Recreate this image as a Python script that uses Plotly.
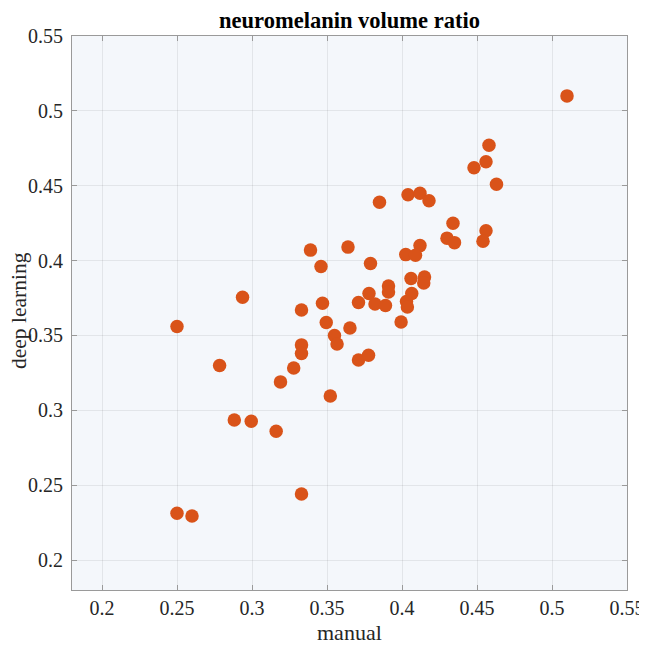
import plotly.graph_objects as go

manual = [0.510, 0.458, 0.456, 0.448, 0.463, 0.385, 0.404, 0.412, 0.418, 0.434,
          0.430, 0.435, 0.456, 0.454, 0.379, 0.412, 0.4025, 0.409, 0.406, 0.415,
          0.4145, 0.378, 0.391, 0.391, 0.4065, 0.339, 0.364, 0.346, 0.371, 0.382,
          0.389, 0.403, 0.4036, 0.3994, 0.333, 0.347, 0.3495, 0.3653, 0.355, 0.3567,
          0.333, 0.333, 0.371, 0.3777, 0.3278, 0.319, 0.3522, 0.250, 0.2937, 0.2784,
          0.2882, 0.2995, 0.3161, 0.250, 0.260, 0.333]
deep_learning = [0.510, 0.477, 0.466, 0.462, 0.451, 0.439, 0.444, 0.445, 0.440, 0.425,
                 0.415, 0.412, 0.420, 0.413, 0.398, 0.410, 0.404, 0.4035, 0.388, 0.389,
                 0.385, 0.378, 0.383, 0.379, 0.378, 0.407, 0.409, 0.396, 0.372, 0.371,
                 0.370, 0.3726, 0.369, 0.359, 0.367, 0.3715, 0.3586, 0.355, 0.350, 0.3443,
                 0.3437, 0.338, 0.3336, 0.3368, 0.3283, 0.319, 0.3096, 0.356, 0.3755, 0.330,
                 0.2936, 0.2927, 0.286, 0.2312, 0.2294, 0.2441]

tick_vals = [0.2, 0.25, 0.3, 0.35, 0.4, 0.45, 0.5, 0.55]
tick_text = ["0.2", "0.25", "0.3", "0.35", "0.4", "0.45", "0.5", "0.55"]

# page is offset by the 8px body margin, so the figure is sized to fit
OFF = 8
W, H = 647 - OFF, 645 - OFF
ML, MR, MT, MB = 72 - OFF, 20, 36 - OFF, 55
PW = W - ML - MR
PH = H - MT - MB

fig = go.Figure(go.Scatter(
    x=manual, y=deep_learning, mode="markers",
    marker=dict(color="#D95319", size=13.5, line=dict(width=0)),
    showlegend=False,
))

axis_common = dict(
    range=[0.18, 0.55], tickvals=tick_vals, ticktext=tick_text,
    showgrid=True, gridcolor="rgba(0,0,0,0.07)", gridwidth=1,
    zeroline=False, showline=True, linecolor="#9a9a9a", linewidth=1,
    mirror="ticks", ticks="inside", ticklen=5, tickcolor="#9a9a9a",
    tickfont=dict(family="Liberation Serif", size=20, color="#262626"),
    automargin=False,
)

fig.update_layout(
    width=W, height=H,
    margin=dict(l=ML, r=MR, t=MT, b=MB, autoexpand=False),
    paper_bgcolor="white", plot_bgcolor="#F4F7FB",
    title=dict(text="<b>neuromelanin volume ratio</b>", x=0.5, xref="paper", xanchor="center",
               y=1 - (20 - OFF) / H, yref="container", yanchor="middle",
               font=dict(family="Liberation Serif", size=22.5, color="black")),
    xaxis=dict(**axis_common, ticklabelstandoff=0),
    yaxis=dict(**axis_common, ticklabelstandoff=4),
)

fig.add_annotation(
    text="manual", showarrow=False,
    xref="paper", yref="paper", x=0.5, y=-(632 - 590) / PH,
    xanchor="center", yanchor="middle",
    font=dict(family="Liberation Serif", size=22, color="#262626"),
)
fig.add_annotation(
    text="deep learning", textangle=-90, showarrow=False,
    xref="paper", yref="paper", x=-(72 - 19) / PW, y=(590 - 311) / PH,
    xanchor="center", yanchor="middle",
    font=dict(family="Liberation Serif", size=21.5, color="#262626"),
)

fig.write_html("out.html")
